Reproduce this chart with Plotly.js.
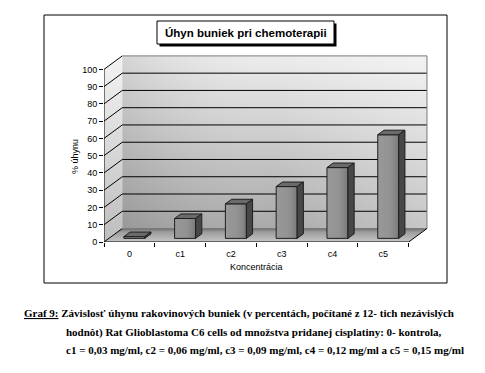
<!DOCTYPE html>
<html><head><meta charset="utf-8">
<script src="https://cdn.plot.ly/plotly-3.0.1.min.js"></script>
<style>html,body{margin:0;padding:0;background:#fff;}#chart{width:485px;height:373px;}</style>
</head><body><div id="chart"></div>
<script>
// ---- data ----
const categories = ['0', 'c1', 'c2', 'c3', 'c4', 'c5'];
const values = [1, 11.5, 20, 30, 41, 60];
const yTicks = [0, 10, 20, 30, 40, 50, 60, 70, 80, 90, 100];
const chartTitle = 'Úhyn buniek pri chemoterapii';
const yTitle = '% úhynu';
const xTitle = 'Koncentrácia';
const captionLines = [
  '<u>Graf 9:</u> Závislosť úhynu rakovinových buniek (v percentách, počítané z 12- tich nezávislých',
  'hodnôt) Rat Glioblastoma C6 cells od množstva pridanej cisplatiny: 0- kontrola,',
  'c1 = 0,03 mg/ml, c2 = 0,06 mg/ml, c3 = 0,09 mg/ml, c4 = 0,12 mg/ml a c5 = 0,15 mg/ml'
];

// ---- geometry ----
const W = 485, H = 373, ML = 104, MR = 56, MT = 54, MB = 131;
const PW = W - ML - MR, PH = H - MT - MB;
const DX = 0.36, DY = 7.8;          // depth offset of the back wall (axis units)
const X0 = -0.5, X1 = 5.9, Y1 = 108.9;
const f1 = 0.27, f2 = 0.61;         // bar depth (fraction of box depth)
const barW = 0.413;
const YMAX = yTicks[yTicks.length - 1];
const nCat = categories.length;
const xL = -0.5, xR = nCat - 0.5;
const px = x => (x - ML) / PW;
const py = y => 1 - (y - MT) / PH;

const traces = [];
const base = { hoverinfo: 'skip', showlegend: false, mode: 'lines' };
const noLine = { color: 'rgba(0,0,0,0)', width: 0 };

// left wall
traces.push(Object.assign({}, base, {
  x: [xL, xL, xL + DX, xL + DX, xL], y: [0, YMAX, YMAX + DY, DY, 0],
  fill: 'toself', line: noLine,
  fillgradient: { type: 'vertical', colorscale: [[0, '#bdbdbd'], [1, '#f3f3f3']] }
}));
// back wall
traces.push(Object.assign({}, base, {
  x: [xL + DX, xR + DX, xR + DX, xL + DX, xL + DX], y: [DY, DY, YMAX + DY, YMAX + DY, DY],
  fill: 'toself', line: noLine,
  fillgradient: { type: 'vertical', colorscale: [[0, '#a9a9a9'], [1, '#ececec']] }
}));
traces.push(Object.assign({}, base, {
  x: [xL + DX, xR + DX, xR + DX, xL + DX, xL + DX], y: [DY, DY, YMAX + DY, YMAX + DY, DY],
  fill: 'toself', line: noLine,
  fillgradient: { type: 'horizontal', colorscale: [[0, 'rgba(0,0,0,0.10)'], [0.5, 'rgba(255,255,255,0)'], [1, 'rgba(255,255,255,0.35)']] }
}));
// floor
traces.push(Object.assign({}, base, {
  x: [xL, xR, xR + DX, xL + DX, xL], y: [0, 0, DY, DY, 0],
  fill: 'toself', line: noLine,
  fillgradient: { type: 'vertical', colorscale: [[0, '#c6c6c6'], [0.75, '#9c9c9c'], [1, '#6c6c6c']] }
}));
// gridlines on back wall + diagonals on left wall
const gx = [], gy = [];
yTicks.forEach(v => {
  gx.push(xL, xL + DX, null); gy.push(v, v + DY, null);
  if (v > 0 && v < YMAX) { gx.push(xL + DX, xR + DX, null); gy.push(v + DY, v + DY, null); }
});
traces.push(Object.assign({}, base, { x: gx, y: gy, line: { color: '#000', width: 1 } }));
// wall edges
traces.push(Object.assign({}, base, {
  x: [xL + DX, xR + DX, xR + DX, null, xL + DX, xR + DX], y: [YMAX + DY, YMAX + DY, DY, null, DY, DY],
  line: { color: '#7a7a7a', width: 1 }
}));
// front axis lines
traces.push(Object.assign({}, base, {
  x: [xL, xL, xR, xR + DX], y: [YMAX, 0, 0, DY],
  line: { color: '#000', width: 1 }
}));

// ---- bars (overlay subplot so they sit above the walls) ----
const idx = categories.map((c, i) => i);
const b0 = f1 * DY, sx = f1 * DX;
const ddx = (f2 - f1) * DX, ddy = (f2 - f1) * DY;
traces.push({
  type: 'bar', x: idx, y: values, base: b0, width: barW, offset: sx - barW / 2,
  xaxis: 'x2', yaxis: 'y2', hoverinfo: 'skip', showlegend: false,
  marker: { color: '#8d8d8d', line: { color: '#1e1e1e', width: 1 } }
});
values.forEach((v, i) => {
  const x0 = i + sx - barW / 2, x1 = i + sx + barW / 2, t = v + b0;
  // shading of the front face
  traces.push(Object.assign({}, base, {
    xaxis: 'x2', yaxis: 'y2',
    x: [x0 + 0.01, x1 - 0.01, x1 - 0.01, x0 + 0.01, x0 + 0.01], y: [b0 + 0.3, b0 + 0.3, t - 0.3, t - 0.3, b0 + 0.3],
    fill: 'toself', line: noLine,
    fillgradient: { type: 'horizontal', colorscale: [[0, 'rgba(255,255,255,0.10)'], [0.45, 'rgba(255,255,255,0.06)'], [1, 'rgba(0,0,0,0.14)']] }
  }));
  traces.push(Object.assign({}, base, {
    xaxis: 'x2', yaxis: 'y2',
    x: [x0, x1, x1 + ddx, x0 + ddx, x0], y: [t, t, t + ddy, t + ddy, t],
    fill: 'toself', fillcolor: '#6a6a6a', line: { color: '#1e1e1e', width: 1 }
  }));
  traces.push(Object.assign({}, base, {
    xaxis: 'x2', yaxis: 'y2',
    x: [x1, x1, x1 + ddx, x1 + ddx, x1], y: [b0, t, t + ddy, b0 + ddy, b0],
    fill: 'toself', fillcolor: '#474747', line: { color: '#1e1e1e', width: 1 }
  }));
});

const tickFont = { family: 'Liberation Sans, Arial, sans-serif', size: 9, color: '#000' };
const boundaries = categories.map((c, i) => i - 0.5).concat([nCat - 0.5]);

const layout = {
  width: W, height: H,
  margin: { l: ML, r: MR, t: MT, b: MB, pad: 0 },
  paper_bgcolor: '#fff', plot_bgcolor: 'rgba(0,0,0,0)',
  showlegend: false,
  xaxis: {
    range: [X0, X1], tickmode: 'array', tickvals: idx, ticktext: categories,
    ticks: '', showgrid: false, zeroline: false, showline: false, tickfont: tickFont,
    ticklabelstandoff: 5,
    minor: { tickmode: 'array', tickvals: boundaries, ticks: 'outside', ticklen: 4, tickwidth: 1, tickcolor: '#000', showgrid: false },
    fixedrange: true
  },
  yaxis: {
    range: [0, Y1], tickmode: 'array', tickvals: yTicks, ticks: 'outside', ticklen: 4,
    tickwidth: 1, tickcolor: '#000', showgrid: false, zeroline: false, showline: false,
    tickfont: tickFont, fixedrange: true
  },
  xaxis2: { overlaying: 'x', anchor: 'y2', range: [X0, X1], visible: false, fixedrange: true },
  yaxis2: { overlaying: 'y', anchor: 'x2', range: [0, Y1], visible: false, fixedrange: true },
  shapes: [
    { type: 'rect', xref: 'paper', yref: 'paper', x0: px(44), x1: px(447), y0: py(283), y1: py(15), line: { color: '#000', width: 1 }, fillcolor: 'rgba(0,0,0,0)' },
    { type: 'rect', xref: 'paper', yref: 'paper', x0: px(159.5), x1: px(336.5), y0: py(46.5), y1: py(23.5), line: { width: 0 }, fillcolor: '#000' },
    { type: 'rect', xref: 'paper', yref: 'paper', x0: px(157), x1: px(334), y0: py(44), y1: py(21), line: { color: '#000', width: 1 }, fillcolor: '#fff' }
  ],
  annotations: [
    { text: '<b>' + chartTitle + '</b>', xref: 'paper', yref: 'paper', x: px(245.5), y: py(32.5), showarrow: false, xanchor: 'center', yanchor: 'middle', font: { family: 'Liberation Sans, Arial, sans-serif', size: 11.5, color: '#000' } },
    { text: yTitle, xref: 'paper', yref: 'paper', x: px(75), y: py(157), textangle: -90, showarrow: false, xanchor: 'center', yanchor: 'middle', font: tickFont },
    { text: xTitle, xref: 'x', yref: 'paper', x: (xL + xR) / 2, y: py(267), showarrow: false, xanchor: 'center', yanchor: 'middle', font: tickFont },
    { text: '<b>' + captionLines[0] + '</b>', xref: 'paper', yref: 'paper', x: px(22), y: py(313), showarrow: false, xanchor: 'left', yanchor: 'middle', font: { family: 'Liberation Serif, Times New Roman, serif', size: 11, color: '#000' } },
    { text: '<b>' + captionLines[1] + '</b>', xref: 'paper', yref: 'paper', x: px(64), y: py(332), showarrow: false, xanchor: 'left', yanchor: 'middle', font: { family: 'Liberation Serif, Times New Roman, serif', size: 11, color: '#000' } },
    { text: '<b>' + captionLines[2] + '</b>', xref: 'paper', yref: 'paper', x: px(64), y: py(350), showarrow: false, xanchor: 'left', yanchor: 'middle', font: { family: 'Liberation Serif, Times New Roman, serif', size: 11, color: '#000' } }
  ]
};

Plotly.newPlot('chart', traces, layout, { displayModeBar: false, staticPlot: true });
</script>
</body></html>
